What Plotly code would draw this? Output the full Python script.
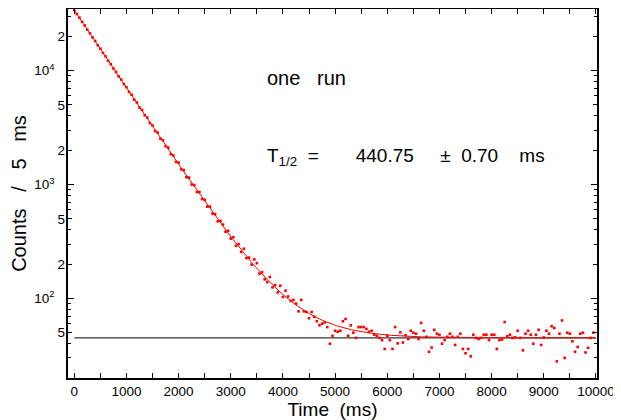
import numpy as np
import plotly.graph_objects as go

# ---------------- data ----------------
BIN_MS = 50  # one point every 50 ms, starting at t = 0

# counts for t = 0 ... 4100 ms (decay part)
decay_counts = [
    34050, 31400, 29150, 26850, 24950, 22900, 21300, 19600, 18250, 16720,
    15580, 14300, 13350, 12200, 11420, 10450, 9760, 8910, 8360, 7620,
    7160, 6510, 6140, 5560, 5250, 4740, 4520, 4060, 3870, 3460,
    3300, 2950, 2860, 2530, 2450, 2170, 2110, 1850, 1800, 1580,
    1560, 1360, 1340, 1160, 1150, 1000, 990, 860, 860, 745,
    735, 640, 640, 555, 550, 475, 480, 445, 385, 392,
    335, 345, 290, 300, 256, 273, 226, 228, 198, 220,
    204, 165, 170, 147, 139, 154, 125, 131, 113, 129,
    103, 117, 104,
]

# counts for t = 4150 ... 9950 ms (background part)
tail_counts = [
    95, 97, 90, 77, 97, 77, 76, 67, 76, 69,
    63, 58, 60, 61.5, 56, 40, 47, 52, 51, 52,
    63, 66, 47, 58, 50, 45, 56, 56, 56, 54,
    51, 52, 48, 47, 45, 43, 36, 47, 43, 36,
    56, 40.3, 50.3, 41, 47.5, 44, 52, 50, 49, 44,
    61, 52, 46, 34, 37, 53, 49, 48, 40, 43,
    46, 49, 46, 39, 46, 49, 36, 33, 36, 31,
    48, 45, 44, 45, 48, 48, 43, 48, 48, 36,
    43, 43.5, 62, 46.5, 48, 45, 45.5, 52, 45, 35,
    49, 52, 48, 40, 48, 53, 39, 45.4, 52, 49,
    57, 55, 28, 49, 64, 30, 50, 49, 42, 34,
    37.5, 49, 50, 33.5, 36.8, 45, 50,
]

counts = decay_counts + tail_counts
time_ms = [i * BIN_MS for i in range(len(counts))]

# fit parameters
FIT_AMPLITUDE = 34000.0
HALF_LIFE_MS = 440.75
HALF_LIFE_ERR = 0.70
BACKGROUND = 45.0
FIT_T_MAX = 10000

# axis ticks
x_tick_vals = [0, 1000, 2000, 3000, 4000, 5000, 6000, 7000, 8000, 9000, 10000]
x_tick_text = [str(v) for v in x_tick_vals]
x_minor_vals = [500, 1500, 2500, 3500, 4500, 5500, 6500, 7500, 8500, 9500]

y_decade_vals = [100, 1000, 10000]
y_decade_text = ["10<sup>2</sup>", "10<sup>3</sup>", "10<sup>4</sup>"]
y_label_vals = [50, 200, 500, 2000, 5000, 20000]
y_label_text = ["5", "2", "5", "2", "5", "2"]
y_minor_vals = [30, 40, 60, 70, 80, 90,
                300, 400, 600, 700, 800, 900,
                3000, 4000, 6000, 7000, 8000, 9000, 30000]

X_RANGE = [-120, 10020]
Y_RANGE = [np.log10(20), np.log10(34800)]

# ---------------- figure ----------------
fit_t = np.linspace(0, FIT_T_MAX, 801)
fit_y = FIT_AMPLITUDE * 2.0 ** (-fit_t / HALF_LIFE_MS) + BACKGROUND

FONT = "Liberation Sans"
NB = "\u00a0"

fig = go.Figure()
fig.add_trace(go.Scatter(
    x=[0, FIT_T_MAX], y=[BACKGROUND, BACKGROUND], mode="lines",
    line=dict(color="black", width=1), yaxis="y", showlegend=False,
    hoverinfo="skip"))
fig.add_trace(go.Scatter(
    x=fit_t, y=fit_y, mode="lines", line=dict(color="red", width=1),
    yaxis="y2", showlegend=False, hoverinfo="skip"))
fig.add_trace(go.Scatter(
    x=time_ms, y=counts, mode="markers",
    marker=dict(symbol="square", size=2.6, color="red", line=dict(width=0)),
    yaxis="y2", showlegend=False))

axis_common = dict(
    showgrid=False, zeroline=False, showline=True, linecolor="black",
    linewidth=1.5, mirror="ticks", ticks="inside", tickcolor="black",
    tickwidth=1.2, tickfont=dict(family=FONT, size=13.5, color="black"),
    automargin=False,
)

# the page body adds an 8 px offset, so the figure is 8 px smaller
fig.update_layout(
    width=613, height=412,
    margin=dict(l=60, r=24, t=1, b=42),
    paper_bgcolor="white", plot_bgcolor="white",
    font=dict(family=FONT, color="black"),
    xaxis=dict(
        **axis_common, range=X_RANGE, tickmode="array",
        tickvals=x_tick_vals, ticktext=x_tick_text, ticklen=5,
        ticklabelstandoff=0,
        minor=dict(tickmode="array", tickvals=x_minor_vals, ticks="inside",
                   ticklen=5, tickcolor="black", tickwidth=1.2),
        title=dict(text="Time" + NB + NB + "(ms)",
                   font=dict(family=FONT, size=19, color="black"),
                   standoff=6),
    ),
    yaxis=dict(
        **axis_common, type="log", range=Y_RANGE, tickmode="array",
        tickvals=y_decade_vals, ticktext=y_decade_text, ticklen=6,
        ticklabelstandoff=9,
        minor=dict(tickmode="array", tickvals=y_minor_vals, ticks="inside",
                   ticklen=3.5, tickcolor="black", tickwidth=1.2),
        title=dict(text=NB * 3 + "Counts" + NB * 3 + "/" + NB * 3 + "5"
                        + NB * 3 + "ms",
                   font=dict(family=FONT, size=20, color="black"),
                   standoff=6),
    ),
    yaxis2=dict(
        showgrid=False, zeroline=False, showline=False, overlaying="y",
        side="left", type="log", range=Y_RANGE, tickmode="array",
        tickvals=y_label_vals, ticktext=y_label_text, ticks="inside",
        ticklen=4, tickcolor="black", tickwidth=1.2, mirror="ticks",
        ticklabelstandoff=2, automargin=False,
        tickfont=dict(family=FONT, size=13.5, color="black"),
    ),
    annotations=[
        dict(text="one" + NB * 3 + "run", xref="paper", yref="paper",
             x=(265 - 68) / 529, y=0.812, xanchor="left", yanchor="middle",
             showarrow=False, font=dict(family=FONT, size=20, color="black")),
        dict(text="T<sub>1/2</sub>" + NB * 2 + "=" + NB * 7
                  + f"{HALF_LIFE_MS:.2f}" + NB * 5 + "\u00b1" + NB * 2
                  + f"{HALF_LIFE_ERR:.2f}" + NB * 4 + "ms",
             xref="paper", yref="paper", x=(265 - 68) / 529, y=0.60,
             xanchor="left", yanchor="middle", showarrow=False,
             font=dict(family=FONT, size=19, color="black")),
    ],
)

fig.write_html("out.html")
